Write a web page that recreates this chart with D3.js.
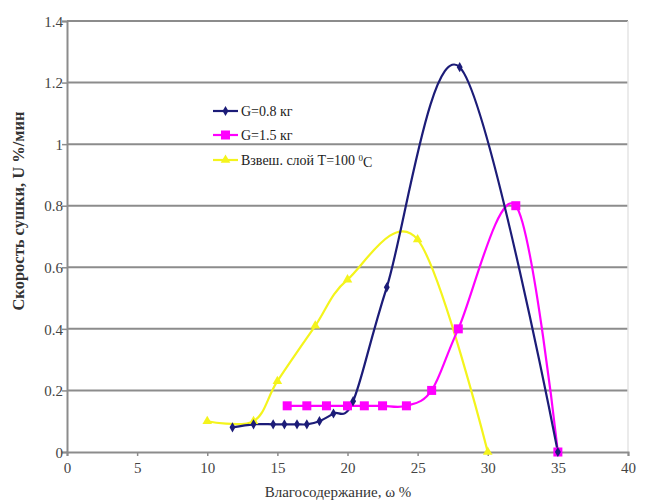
<!DOCTYPE html>
<html>
<head>
<meta charset="utf-8">
<script src="https://cdn.jsdelivr.net/npm/d3@7"></script>
<style>
  body { margin: 0; background: #fff; }
  text { font-family: "Liberation Serif", "Times New Roman", serif; }
</style>
</head>
<body>
<script>
// DATA
var xTicks = [0, 5, 10, 15, 20, 25, 30, 35, 40];
var yTicks = [0, 0.2, 0.4, 0.6, 0.8, 1, 1.2, 1.4];

var blueX = [11.8, 13.3, 14.7, 15.5, 16.4, 17.1, 18.0, 19.0, 20.4, 22.8, 28.0, 35];
var blueY = [0.08, 0.09, 0.09, 0.09, 0.09, 0.09, 0.1, 0.125, 0.165, 0.535, 1.25, 0];

var pinkX = [15.7, 17.1, 18.5, 20.0, 21.2, 22.5, 24.2, 26.0, 27.9, 32.0, 35];
var pinkY = [0.15, 0.15, 0.15, 0.15, 0.15, 0.15, 0.15, 0.2, 0.4, 0.8, 0];

var yellowX = [10, 13.3, 15, 17.7, 20, 25, 30];
var yellowY = [0.1, 0.1, 0.23, 0.41, 0.56, 0.69, 0];

var seriesNames = ["G=0.8 кг", "G=1.5 кг", "Взвеш. слой T=100 "];

var width = 645;
var height = 501;

var svg = d3.select("body").append("svg")
    .attr("width", width)
    .attr("height", height);

var x = d3.scaleLinear().domain([0, 40]).range([67, 628]);
var y = d3.scaleLinear().domain([0, 1.4]).range([452, 21]);

// gridlines
svg.append("g").selectAll("line")
    .data(yTicks.filter(function(d) { return d > 0; }))
    .enter().append("line")
    .attr("x1", x(0)).attr("x2", x(40))
    .attr("y1", function(d) { return y(d); })
    .attr("y2", function(d) { return y(d); })
    .attr("stroke", "#8c8c8c")
    .attr("stroke-width", 2);

// faint right border
svg.append("line")
    .attr("x1", x(40)).attr("x2", x(40))
    .attr("y1", y(1.4)).attr("y2", y(0))
    .attr("stroke", "#e4e4e4")
    .attr("stroke-width", 1.5);

// axes
var yAxis = svg.append("g")
    .attr("transform", "translate(" + x(0) + ",0)")
    .call(d3.axisLeft(y).tickValues(yTicks).tickSize(5).tickFormat(d3.format("")));
var xAxis = svg.append("g")
    .attr("transform", "translate(0," + y(0) + ")")
    .call(d3.axisBottom(x).tickValues(xTicks).tickSize(4).tickFormat(d3.format("")));

[yAxis, xAxis].forEach(function(a) {
  a.attr("font-family", null);
  a.select(".domain").attr("stroke", "#8c8c8c").attr("stroke-width", 2);
  a.selectAll(".tick line").attr("stroke", "#8c8c8c").attr("stroke-width", 1.5);
  a.selectAll("text")
    .style("font-size", "15px")
    .attr("fill", "#444");
});
yAxis.selectAll("text").attr("x", -4).attr("dy", "0.35em");
xAxis.selectAll("text").attr("y", 10).attr("dy", "0.71em");

// lines
var line = d3.line()
    .x(function(d) { return x(d[0]); })
    .y(function(d) { return y(d[1]); })
    .curve(d3.curveCardinal.tension(0));

function pairs(xs, ys) {
  return xs.map(function(v, i) { return [v, ys[i]]; });
}

var yellow = pairs(yellowX, yellowY);
var pink = pairs(pinkX, pinkY);
var blue = pairs(blueX, blueY);

svg.append("path").datum(yellow)
    .attr("d", line).attr("fill", "none")
    .attr("stroke", "#f4f41c").attr("stroke-width", 2.2);
svg.append("path").datum(pink)
    .attr("d", line).attr("fill", "none")
    .attr("stroke", "#ff00ff").attr("stroke-width", 2.2);
svg.append("path").datum(blue)
    .attr("d", line).attr("fill", "none")
    .attr("stroke", "#1c1c78").attr("stroke-width", 2.2);

// markers
svg.append("g").selectAll("path").data(yellow).enter().append("path")
    .attr("transform", function(d) { return "translate(" + x(d[0]) + "," + y(d[1]) + ")"; })
    .attr("d", d3.symbol().type(d3.symbolTriangle).size(40))
    .attr("fill", "#f4f41c");
svg.append("g").selectAll("rect").data(pink).enter().append("rect")
    .attr("x", function(d) { return x(d[0]) - 4.5; })
    .attr("y", function(d) { return y(d[1]) - 4.5; })
    .attr("width", 9).attr("height", 9)
    .attr("fill", "#ff00ff");
svg.append("g").selectAll("path").data(blue).enter().append("path")
    .attr("transform", function(d) { return "translate(" + x(d[0]) + "," + y(d[1]) + ")"; })
    .attr("d", d3.symbol().type(d3.symbolDiamond).size(30))
    .attr("fill", "#1c1c78");

// legend
var legColors = ["#1c1c78", "#ff00ff", "#f4f41c"];
var legY = [111, 135, 160];
seriesNames.forEach(function(name, i) {
  var g = svg.append("g").attr("transform", "translate(213," + legY[i] + ")");
  g.append("line").attr("x1", 0).attr("x2", 25)
    .attr("stroke", legColors[i]).attr("stroke-width", 2.2);
  if (i == 0) {
    g.append("path").attr("transform", "translate(12.5,0)")
      .attr("d", d3.symbol().type(d3.symbolDiamond).size(30)).attr("fill", legColors[i]);
  } else if (i == 1) {
    g.append("rect").attr("x", 8).attr("y", -4.5).attr("width", 9).attr("height", 9)
      .attr("fill", legColors[i]);
  } else {
    g.append("path").attr("transform", "translate(12.5,0)")
      .attr("d", d3.symbol().type(d3.symbolTriangle).size(40)).attr("fill", legColors[i]);
  }
  var t = g.append("text").attr("x", 28).attr("dy", "0.35em")
    .style("font-size", "14px").attr("fill", "#222").text(name);
  if (i == 2) {
    t.append("tspan").attr("dy", "-0.45em").style("font-size", "9px").text("0");
    t.append("tspan").attr("dy", "0.45em").text("C");
  }
});

// axis titles
svg.append("text")
    .attr("transform", "translate(24,211) rotate(-90)")
    .attr("text-anchor", "middle")
    .style("font-size", "16.5px")
    .style("font-weight", "bold")
    .attr("fill", "#333")
    .text("Скорость сушки, U %/мин");

svg.append("text")
    .attr("x", 338).attr("y", 497)
    .attr("text-anchor", "middle")
    .style("font-size", "15px")
    .attr("fill", "#333")
    .text("Влагосодержание, ω %");
</script>
</body>
</html>
